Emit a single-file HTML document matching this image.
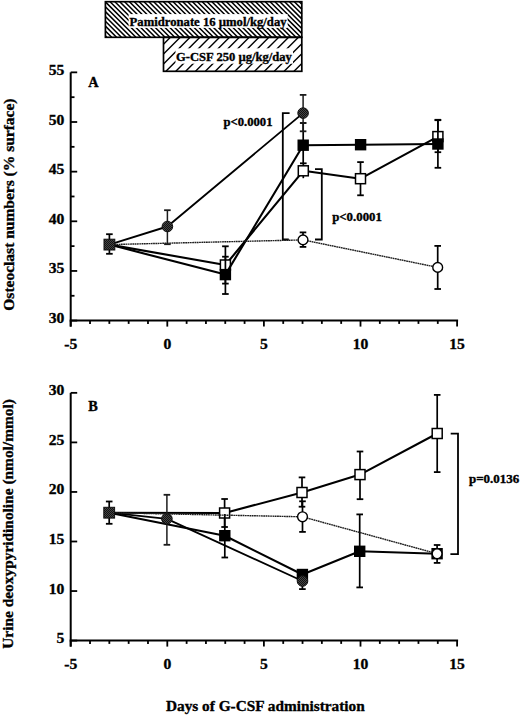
<!DOCTYPE html>
<html><head><meta charset="utf-8"><style>
html,body{margin:0;padding:0;background:#fff;}
body{width:520px;height:716px;overflow:hidden;font-family:"Liberation Serif",serif;}
svg{display:block;}
</style></head><body>
<svg width="520" height="716" viewBox="0 0 520 716">
<defs>
<pattern id="hp" patternUnits="userSpaceOnUse" width="4.85" height="4.85" patternTransform="translate(103.5,0) rotate(45)">
</pattern>
<pattern id="dk" patternUnits="userSpaceOnUse" width="2" height="2">
<rect width="2" height="2" fill="#454545"/><rect width="1" height="1" fill="#111"/><rect x="1" y="1" width="1" height="1" fill="#111"/>
</pattern>
</defs>
<rect width="520" height="716" fill="#fff"/>
<path d="M105.40 35.85L106.85 37.30M105.40 31.00L111.70 37.30M105.40 26.15L116.55 37.30M105.40 21.30L121.40 37.30M105.40 16.45L126.25 37.30M105.40 11.60L131.10 37.30M105.40 6.75L135.95 37.30M105.40 1.90L140.80 37.30M110.05 1.70L145.65 37.30M114.90 1.70L150.50 37.30M119.75 1.70L155.35 37.30M124.60 1.70L160.20 37.30M129.45 1.70L165.05 37.30M134.30 1.70L169.90 37.30M139.15 1.70L174.75 37.30M144.00 1.70L179.60 37.30M148.85 1.70L184.45 37.30M153.70 1.70L189.30 37.30M158.55 1.70L194.15 37.30M163.40 1.70L199.00 37.30M168.25 1.70L203.85 37.30M173.10 1.70L208.70 37.30M177.95 1.70L213.55 37.30M182.80 1.70L218.40 37.30M187.65 1.70L223.25 37.30M192.50 1.70L228.10 37.30M197.35 1.70L232.95 37.30M202.20 1.70L237.80 37.30M207.05 1.70L242.65 37.30M211.90 1.70L247.50 37.30M216.75 1.70L252.35 37.30M221.60 1.70L257.20 37.30M226.45 1.70L262.05 37.30M231.30 1.70L266.90 37.30M236.15 1.70L271.75 37.30M241.00 1.70L276.60 37.30M245.85 1.70L281.45 37.30M250.70 1.70L286.30 37.30M255.55 1.70L291.15 37.30M260.40 1.70L296.00 37.30M265.25 1.70L300.85 37.30M270.10 1.70L301.80 33.40M274.95 1.70L301.80 28.55M279.80 1.70L301.80 23.70M284.65 1.70L301.80 18.85M289.50 1.70L301.80 14.00M294.35 1.70L301.80 9.15M299.20 1.70L301.80 4.30" stroke="#000" stroke-width="1.55" fill="none"/>
<path d="M170.40 37.30L163.50 44.20M180.25 37.30L163.50 54.05M190.10 37.30L163.50 63.90M199.95 37.30L165.95 71.30M209.80 37.30L175.80 71.30M219.65 37.30L185.65 71.30M229.50 37.30L195.50 71.30M239.35 37.30L205.35 71.30M249.20 37.30L215.20 71.30M259.05 37.30L225.05 71.30M268.90 37.30L234.90 71.30M278.75 37.30L244.75 71.30M288.60 37.30L254.60 71.30M298.45 37.30L264.45 71.30M301.80 43.80L274.30 71.30M301.80 53.65L284.15 71.30M301.80 63.50L294.00 71.30" stroke="#000" stroke-width="1.4" fill="none"/>
<rect x="128.6" y="14.1" width="159" height="13.8" fill="#fff"/>
<rect x="175.5" y="48.3" width="117.5" height="15.4" fill="#fff"/>
<rect x="105.4" y="1.7" width="196.4" height="35.599999999999994" fill="none" stroke="#000" stroke-width="1.7"/>
<rect x="163.5" y="37.3" width="138.3" height="34.0" fill="none" stroke="#000" stroke-width="1.7"/>
<text x="129.6" y="25.9" font-family="Liberation Serif" font-weight="bold" stroke="#000" stroke-width="0.35" font-size="12.2" textLength="157" lengthAdjust="spacingAndGlyphs">Pamidronate 16 µmol/kg/day</text>
<text x="176" y="61.1" font-family="Liberation Serif" font-weight="bold" stroke="#000" stroke-width="0.35" font-size="12.2" textLength="115.8" lengthAdjust="spacingAndGlyphs">G-CSF 250 µg/kg/day</text>
<path d="M70.7 72.35000000000002V326.6" stroke="#000" stroke-width="2" fill="none"/><path d="M69.7 320.6H458.09999999999997" stroke="#000" stroke-width="2" fill="none"/><path d="M70.7 320.60H77.2" stroke="#000" stroke-width="1.8"/><text x="64.4" y="323.10" font-family="Liberation Serif" font-weight="bold" stroke="#000" stroke-width="0.35" font-size="15.6" text-anchor="end">30</text><path d="M70.7 270.95H77.2" stroke="#000" stroke-width="1.8"/><text x="64.4" y="273.45" font-family="Liberation Serif" font-weight="bold" stroke="#000" stroke-width="0.35" font-size="15.6" text-anchor="end">35</text><path d="M70.7 221.30H77.2" stroke="#000" stroke-width="1.8"/><text x="64.4" y="223.80" font-family="Liberation Serif" font-weight="bold" stroke="#000" stroke-width="0.35" font-size="15.6" text-anchor="end">40</text><path d="M70.7 171.65H77.2" stroke="#000" stroke-width="1.8"/><text x="64.4" y="174.15" font-family="Liberation Serif" font-weight="bold" stroke="#000" stroke-width="0.35" font-size="15.6" text-anchor="end">45</text><path d="M70.7 122.00H77.2" stroke="#000" stroke-width="1.8"/><text x="64.4" y="124.50" font-family="Liberation Serif" font-weight="bold" stroke="#000" stroke-width="0.35" font-size="15.6" text-anchor="end">50</text><path d="M70.7 72.35H77.2" stroke="#000" stroke-width="1.8"/><text x="64.4" y="74.85" font-family="Liberation Serif" font-weight="bold" stroke="#000" stroke-width="0.35" font-size="15.6" text-anchor="end">55</text><path d="M70.7 295.78H74.5" stroke="#000" stroke-width="1.8"/><path d="M70.7 246.13H74.5" stroke="#000" stroke-width="1.8"/><path d="M70.7 196.48H74.5" stroke="#000" stroke-width="1.8"/><path d="M70.7 146.83H74.5" stroke="#000" stroke-width="1.8"/><path d="M70.7 97.18H74.5" stroke="#000" stroke-width="1.8"/><path d="M70.70 320.6V326.6" stroke="#000" stroke-width="1.8"/><path d="M90.02 320.6V323.90000000000003" stroke="#000" stroke-width="1.8"/><path d="M109.34 320.6V323.90000000000003" stroke="#000" stroke-width="1.8"/><path d="M128.66 320.6V323.90000000000003" stroke="#000" stroke-width="1.8"/><path d="M147.98 320.6V323.90000000000003" stroke="#000" stroke-width="1.8"/><path d="M167.30 320.6V326.6" stroke="#000" stroke-width="1.8"/><path d="M186.62 320.6V323.90000000000003" stroke="#000" stroke-width="1.8"/><path d="M205.94 320.6V323.90000000000003" stroke="#000" stroke-width="1.8"/><path d="M225.26 320.6V323.90000000000003" stroke="#000" stroke-width="1.8"/><path d="M244.58 320.6V323.90000000000003" stroke="#000" stroke-width="1.8"/><path d="M263.90 320.6V326.6" stroke="#000" stroke-width="1.8"/><path d="M283.22 320.6V323.90000000000003" stroke="#000" stroke-width="1.8"/><path d="M302.54 320.6V323.90000000000003" stroke="#000" stroke-width="1.8"/><path d="M321.86 320.6V323.90000000000003" stroke="#000" stroke-width="1.8"/><path d="M341.18 320.6V323.90000000000003" stroke="#000" stroke-width="1.8"/><path d="M360.50 320.6V326.6" stroke="#000" stroke-width="1.8"/><path d="M379.82 320.6V323.90000000000003" stroke="#000" stroke-width="1.8"/><path d="M399.14 320.6V323.90000000000003" stroke="#000" stroke-width="1.8"/><path d="M418.46 320.6V323.90000000000003" stroke="#000" stroke-width="1.8"/><path d="M437.78 320.6V323.90000000000003" stroke="#000" stroke-width="1.8"/><path d="M457.10 320.6V326.6" stroke="#000" stroke-width="1.8"/><text x="70.70" y="348.60" font-family="Liberation Serif" font-weight="bold" stroke="#000" stroke-width="0.35" font-size="15.6" text-anchor="middle">-5</text><text x="167.30" y="348.60" font-family="Liberation Serif" font-weight="bold" stroke="#000" stroke-width="0.35" font-size="15.6" text-anchor="middle">0</text><text x="263.90" y="348.60" font-family="Liberation Serif" font-weight="bold" stroke="#000" stroke-width="0.35" font-size="15.6" text-anchor="middle">5</text><text x="360.50" y="348.60" font-family="Liberation Serif" font-weight="bold" stroke="#000" stroke-width="0.35" font-size="15.6" text-anchor="middle">10</text><text x="457.10" y="348.60" font-family="Liberation Serif" font-weight="bold" stroke="#000" stroke-width="0.35" font-size="15.6" text-anchor="middle">15</text>
<path d="M70.7 392.85V646.6" stroke="#000" stroke-width="2" fill="none"/><path d="M69.7 640.6H458.09999999999997" stroke="#000" stroke-width="2" fill="none"/><path d="M70.7 640.60H77.2" stroke="#000" stroke-width="1.8"/><text x="64.4" y="643.10" font-family="Liberation Serif" font-weight="bold" stroke="#000" stroke-width="0.35" font-size="15.6" text-anchor="end">5</text><path d="M70.7 591.05H77.2" stroke="#000" stroke-width="1.8"/><text x="64.4" y="593.55" font-family="Liberation Serif" font-weight="bold" stroke="#000" stroke-width="0.35" font-size="15.6" text-anchor="end">10</text><path d="M70.7 541.50H77.2" stroke="#000" stroke-width="1.8"/><text x="64.4" y="544.00" font-family="Liberation Serif" font-weight="bold" stroke="#000" stroke-width="0.35" font-size="15.6" text-anchor="end">15</text><path d="M70.7 491.95H77.2" stroke="#000" stroke-width="1.8"/><text x="64.4" y="494.45" font-family="Liberation Serif" font-weight="bold" stroke="#000" stroke-width="0.35" font-size="15.6" text-anchor="end">20</text><path d="M70.7 442.40H77.2" stroke="#000" stroke-width="1.8"/><text x="64.4" y="444.90" font-family="Liberation Serif" font-weight="bold" stroke="#000" stroke-width="0.35" font-size="15.6" text-anchor="end">25</text><path d="M70.7 392.85H77.2" stroke="#000" stroke-width="1.8"/><text x="64.4" y="395.35" font-family="Liberation Serif" font-weight="bold" stroke="#000" stroke-width="0.35" font-size="15.6" text-anchor="end">30</text><path d="M70.70 640.6V646.6" stroke="#000" stroke-width="1.8"/><path d="M90.02 640.6V643.9" stroke="#000" stroke-width="1.8"/><path d="M109.34 640.6V643.9" stroke="#000" stroke-width="1.8"/><path d="M128.66 640.6V643.9" stroke="#000" stroke-width="1.8"/><path d="M147.98 640.6V643.9" stroke="#000" stroke-width="1.8"/><path d="M167.30 640.6V646.6" stroke="#000" stroke-width="1.8"/><path d="M186.62 640.6V643.9" stroke="#000" stroke-width="1.8"/><path d="M205.94 640.6V643.9" stroke="#000" stroke-width="1.8"/><path d="M225.26 640.6V643.9" stroke="#000" stroke-width="1.8"/><path d="M244.58 640.6V643.9" stroke="#000" stroke-width="1.8"/><path d="M263.90 640.6V646.6" stroke="#000" stroke-width="1.8"/><path d="M283.22 640.6V643.9" stroke="#000" stroke-width="1.8"/><path d="M302.54 640.6V643.9" stroke="#000" stroke-width="1.8"/><path d="M321.86 640.6V643.9" stroke="#000" stroke-width="1.8"/><path d="M341.18 640.6V643.9" stroke="#000" stroke-width="1.8"/><path d="M360.50 640.6V646.6" stroke="#000" stroke-width="1.8"/><path d="M379.82 640.6V643.9" stroke="#000" stroke-width="1.8"/><path d="M399.14 640.6V643.9" stroke="#000" stroke-width="1.8"/><path d="M418.46 640.6V643.9" stroke="#000" stroke-width="1.8"/><path d="M437.78 640.6V643.9" stroke="#000" stroke-width="1.8"/><path d="M457.10 640.6V646.6" stroke="#000" stroke-width="1.8"/><text x="70.70" y="668.60" font-family="Liberation Serif" font-weight="bold" stroke="#000" stroke-width="0.35" font-size="15.6" text-anchor="middle">-5</text><text x="167.30" y="668.60" font-family="Liberation Serif" font-weight="bold" stroke="#000" stroke-width="0.35" font-size="15.6" text-anchor="middle">0</text><text x="263.90" y="668.60" font-family="Liberation Serif" font-weight="bold" stroke="#000" stroke-width="0.35" font-size="15.6" text-anchor="middle">5</text><text x="360.50" y="668.60" font-family="Liberation Serif" font-weight="bold" stroke="#000" stroke-width="0.35" font-size="15.6" text-anchor="middle">10</text><text x="457.10" y="668.60" font-family="Liberation Serif" font-weight="bold" stroke="#000" stroke-width="0.35" font-size="15.6" text-anchor="middle">15</text>
<text x="88.2" y="87.3" font-family="Liberation Serif" font-weight="bold" stroke="#000" stroke-width="0.35" font-size="14.3">A</text>
<text x="88.2" y="410.7" font-family="Liberation Serif" font-weight="bold" stroke="#000" stroke-width="0.35" font-size="14.3">B</text>
<text x="166" y="710.8" font-family="Liberation Serif" font-weight="bold" stroke="#000" stroke-width="0.35" font-size="15.3">Days of G-CSF administration</text>
<text transform="translate(13.8 310.7) rotate(-90)" font-family="Liberation Serif" font-weight="bold" stroke="#000" stroke-width="0.35" font-size="15.5">Osteoclast numbers (% surface)</text>
<text transform="translate(13.3 648.8) rotate(-90)" font-family="Liberation Serif" font-weight="bold" stroke="#000" stroke-width="0.35" font-size="15.4">Urine deoxypyridinoline (nmol/mmol)</text>
<path d="M289.6 113.2H282.8V239.5H288.8" stroke="#000" stroke-width="1.8" fill="none"/>
<path d="M315 169.1H321.8V239.5H315" stroke="#000" stroke-width="1.8" fill="none"/>
<text x="223.5" y="125.6" font-family="Liberation Serif" font-weight="bold" stroke="#000" stroke-width="0.35" font-size="12.3" textLength="49" lengthAdjust="spacingAndGlyphs">p&lt;0.0001</text>
<text x="332.2" y="221.4" font-family="Liberation Serif" font-weight="bold" stroke="#000" stroke-width="0.35" font-size="12.3" textLength="49.7" lengthAdjust="spacingAndGlyphs">p&lt;0.0001</text>
<path d="M109.40 244.60L225.40 265.00L303.30 170.80L360.50 178.70L437.90 136.60" stroke="#000" stroke-width="2.1" fill="none" stroke-linejoin="round"/>
<path d="M360.50 162.10V195.30" stroke="#000" stroke-width="1.7"/><path d="M357.20 162.10H363.80" stroke="#000" stroke-width="1.8"/><path d="M357.20 195.30H363.80" stroke="#000" stroke-width="1.8"/>
<path d="M437.90 119.80V152.20" stroke="#000" stroke-width="1.7"/><path d="M434.60 119.80H441.20" stroke="#000" stroke-width="1.8"/><path d="M434.60 152.20H441.20" stroke="#000" stroke-width="1.8"/>
<path d="M303.30 163.30V178.20" stroke="#000" stroke-width="1.7"/><path d="M300.00 163.30H306.60" stroke="#000" stroke-width="1.8"/>
<path d="M225.40 246.30V283.60" stroke="#000" stroke-width="1.7"/><path d="M222.10 246.30H228.70" stroke="#000" stroke-width="1.8"/><path d="M222.10 283.60H228.70" stroke="#000" stroke-width="1.8"/>
<rect x="220.40" y="260.00" width="10.00" height="10.00" fill="#fff" stroke="#000" stroke-width="1.5"/>
<rect x="298.30" y="165.80" width="10.00" height="10.00" fill="#fff" stroke="#000" stroke-width="1.5"/>
<rect x="355.50" y="173.70" width="10.00" height="10.00" fill="#fff" stroke="#000" stroke-width="1.5"/>
<rect x="432.90" y="131.60" width="10.00" height="10.00" fill="#fff" stroke="#000" stroke-width="1.5"/>
<path d="M109.40 244.60L225.40 274.60L303.20 145.20L360.60 144.70L437.90 144.00" stroke="#000" stroke-width="2.1" fill="none" stroke-linejoin="round"/>
<path d="M225.40 256.70V294.00" stroke="#000" stroke-width="1.7"/><path d="M222.10 256.70H228.70" stroke="#000" stroke-width="1.8"/><path d="M222.10 294.00H228.70" stroke="#000" stroke-width="1.8"/>
<path d="M437.90 120.20V167.80" stroke="#000" stroke-width="1.7"/><path d="M434.60 120.20H441.20" stroke="#000" stroke-width="1.8"/><path d="M434.60 167.80H441.20" stroke="#000" stroke-width="1.8"/>
<path d="M303.20 123.00V164.00" stroke="#000" stroke-width="1.7"/><path d="M299.90 123.00H306.50" stroke="#000" stroke-width="1.8"/>
<rect x="219.70" y="268.90" width="11.40" height="11.40" fill="#000"/>
<rect x="297.50" y="139.50" width="11.40" height="11.40" fill="#000"/>
<rect x="354.90" y="139.00" width="11.40" height="11.40" fill="#000"/>
<rect x="432.20" y="138.30" width="11.40" height="11.40" fill="#000"/>
<path d="M109.40 244.60L167.40 226.50L303.10 113.10" stroke="#000" stroke-width="1.85" fill="none" stroke-linejoin="round"/>
<path d="M167.40 210.20V244.20" stroke="#1c1c1c" stroke-width="1.5"/><path d="M164.10 210.20H170.70" stroke="#1c1c1c" stroke-width="1.8"/><path d="M164.10 244.20H170.70" stroke="#1c1c1c" stroke-width="1.8"/>
<path d="M303.10 94.90V131.30" stroke="#1c1c1c" stroke-width="1.5"/><path d="M299.80 94.90H306.40" stroke="#1c1c1c" stroke-width="1.8"/><path d="M299.80 131.30H306.40" stroke="#1c1c1c" stroke-width="1.8"/>
<circle cx="167.40" cy="226.50" r="5.30" fill="url(#dk)" stroke="#111" stroke-width="1"/>
<circle cx="303.10" cy="113.10" r="5.30" fill="url(#dk)" stroke="#111" stroke-width="1"/>
<path d="M109.40 244.60L303.00 239.90L437.70 267.40" stroke="#1e1e1e" stroke-width="1.4" stroke-dasharray="1.8 0.5" fill="none"/>
<path d="M303.00 232.40V246.90" stroke="#000" stroke-width="1.7"/><path d="M299.70 232.40H306.30" stroke="#000" stroke-width="1.8"/><path d="M299.70 246.90H306.30" stroke="#000" stroke-width="1.8"/>
<path d="M437.70 245.90V289.00" stroke="#000" stroke-width="1.7"/><path d="M434.40 245.90H441.00" stroke="#000" stroke-width="1.8"/><path d="M434.40 289.00H441.00" stroke="#000" stroke-width="1.8"/>
<circle cx="303.00" cy="239.90" r="4.90" fill="#fff" stroke="#000" stroke-width="1.4"/>
<circle cx="437.70" cy="267.40" r="4.90" fill="#fff" stroke="#000" stroke-width="1.4"/>
<path d="M109.40 234.20V253.80" stroke="#000" stroke-width="1.7"/><path d="M106.10 234.20H112.70" stroke="#000" stroke-width="1.8"/><path d="M106.10 253.80H112.70" stroke="#000" stroke-width="1.8"/>
<rect x="104.00" y="239.20" width="10.80" height="10.80" fill="url(#dk)" stroke="#111" stroke-width="1"/>
<path d="M450.7 433.6H458V554.2H450.4" stroke="#000" stroke-width="1.8" fill="none"/>
<text x="469" y="482.8" font-family="Liberation Serif" font-weight="bold" stroke="#000" stroke-width="0.35" font-size="12.5" textLength="50.3" lengthAdjust="spacingAndGlyphs">p=0.0136</text>
<path d="M109.20 512.70L224.60 513.00L302.00 492.50L360.00 474.60L437.20 433.50" stroke="#000" stroke-width="2.1" fill="none" stroke-linejoin="round"/>
<path d="M224.60 499.00V527.00" stroke="#000" stroke-width="1.7"/><path d="M221.30 499.00H227.90" stroke="#000" stroke-width="1.8"/><path d="M221.30 527.00H227.90" stroke="#000" stroke-width="1.8"/>
<path d="M302.00 477.40V506.70" stroke="#000" stroke-width="1.7"/><path d="M298.70 477.40H305.30" stroke="#000" stroke-width="1.8"/><path d="M298.70 506.70H305.30" stroke="#000" stroke-width="1.8"/>
<path d="M360.00 451.50V499.20" stroke="#000" stroke-width="1.7"/><path d="M356.70 451.50H363.30" stroke="#000" stroke-width="1.8"/><path d="M356.70 499.20H363.30" stroke="#000" stroke-width="1.8"/>
<path d="M437.20 394.90V472.10" stroke="#000" stroke-width="1.7"/><path d="M433.90 394.90H440.50" stroke="#000" stroke-width="1.8"/><path d="M433.90 472.10H440.50" stroke="#000" stroke-width="1.8"/>
<rect x="219.60" y="508.00" width="10.00" height="10.00" fill="#fff" stroke="#000" stroke-width="1.5"/>
<rect x="297.00" y="487.50" width="10.00" height="10.00" fill="#fff" stroke="#000" stroke-width="1.5"/>
<rect x="355.00" y="469.60" width="10.00" height="10.00" fill="#fff" stroke="#000" stroke-width="1.5"/>
<rect x="432.20" y="428.50" width="10.00" height="10.00" fill="#fff" stroke="#000" stroke-width="1.5"/>
<path d="M109.20 512.70L224.80 535.70L302.40 574.50L359.70 551.30L437.10 553.70" stroke="#000" stroke-width="2.1" fill="none" stroke-linejoin="round"/>
<path d="M224.80 514.00V557.50" stroke="#000" stroke-width="1.7"/><path d="M221.50 557.50H228.10" stroke="#000" stroke-width="1.8"/>
<path d="M359.70 514.40V587.40" stroke="#000" stroke-width="1.7"/><path d="M356.40 514.40H363.00" stroke="#000" stroke-width="1.8"/><path d="M356.40 587.40H363.00" stroke="#000" stroke-width="1.8"/>
<path d="M302.40 574.50V589.10" stroke="#000" stroke-width="1.7"/><path d="M299.10 589.10H305.70" stroke="#000" stroke-width="1.8"/>
<rect x="219.10" y="530.00" width="11.40" height="11.40" fill="#000"/>
<rect x="296.70" y="568.80" width="11.40" height="11.40" fill="#000"/>
<rect x="354.00" y="545.60" width="11.40" height="11.40" fill="#000"/>
<rect x="431.40" y="548.00" width="11.40" height="11.40" fill="#000"/>
<path d="M109.20 512.70L166.90 518.80L302.50 581.00" stroke="#000" stroke-width="1.85" fill="none" stroke-linejoin="round"/>
<path d="M166.90 494.80V544.80" stroke="#1c1c1c" stroke-width="1.5"/><path d="M163.60 494.80H170.20" stroke="#1c1c1c" stroke-width="1.8"/><path d="M163.60 544.80H170.20" stroke="#1c1c1c" stroke-width="1.8"/>
<circle cx="166.90" cy="518.80" r="5.30" fill="url(#dk)" stroke="#111" stroke-width="1"/>
<circle cx="302.50" cy="581.00" r="5.30" fill="url(#dk)" stroke="#111" stroke-width="1"/>
<path d="M109.20 512.70L302.50 516.80L437.10 553.70" stroke="#1e1e1e" stroke-width="1.4" stroke-dasharray="1.8 0.5" fill="none"/>
<path d="M302.50 501.30V531.90" stroke="#000" stroke-width="1.7"/><path d="M299.20 501.30H305.80" stroke="#000" stroke-width="1.8"/><path d="M299.20 531.90H305.80" stroke="#000" stroke-width="1.8"/>
<path d="M437.10 545.00V562.90" stroke="#000" stroke-width="1.7"/><path d="M433.80 545.00H440.40" stroke="#000" stroke-width="1.8"/><path d="M433.80 562.90H440.40" stroke="#000" stroke-width="1.8"/>
<circle cx="302.50" cy="516.80" r="4.90" fill="#fff" stroke="#000" stroke-width="1.4"/>
<circle cx="437.10" cy="553.70" r="4.90" fill="#fff" stroke="#000" stroke-width="1.4"/>
<path d="M109.20 501.50V523.80" stroke="#000" stroke-width="1.7"/><path d="M105.90 501.50H112.50" stroke="#000" stroke-width="1.8"/><path d="M105.90 523.80H112.50" stroke="#000" stroke-width="1.8"/>
<rect x="103.80" y="507.30" width="10.80" height="10.80" fill="url(#dk)" stroke="#111" stroke-width="1"/>
</svg>
</body></html>
